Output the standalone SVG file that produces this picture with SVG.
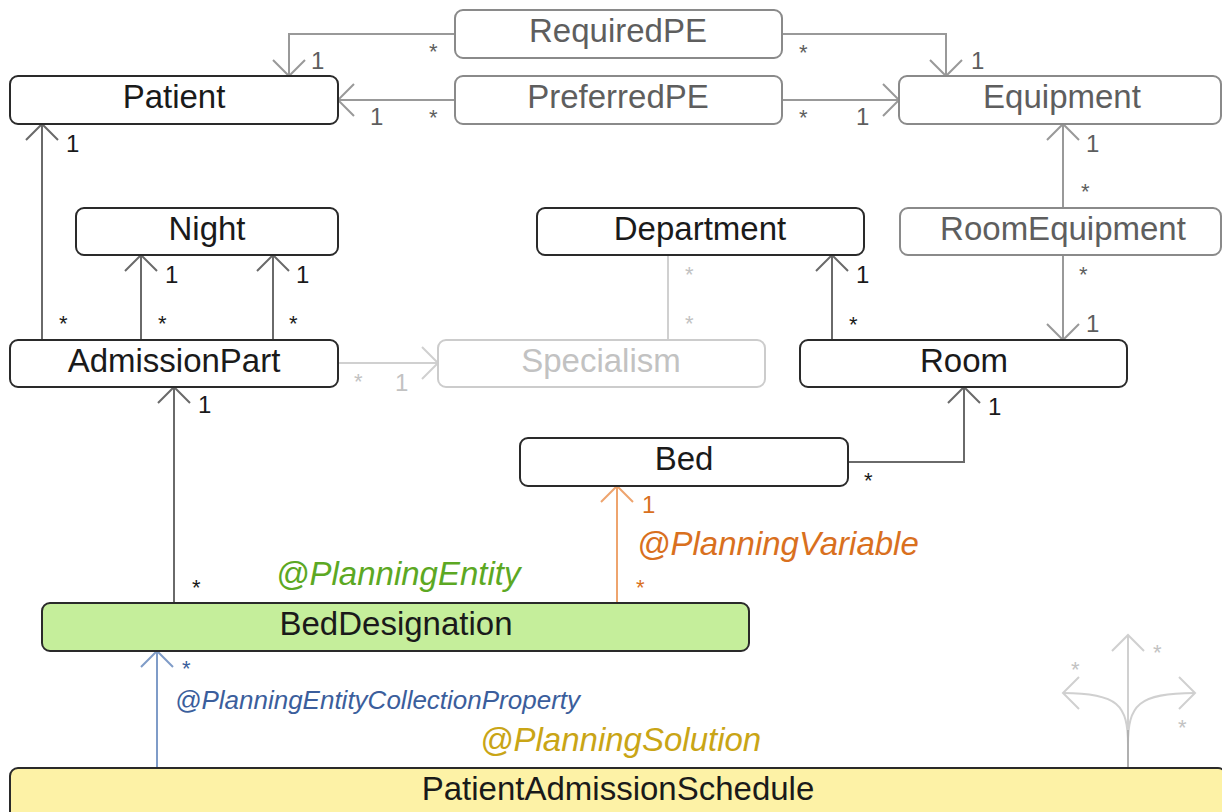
<svg xmlns="http://www.w3.org/2000/svg" width="1222" height="812" viewBox="0 0 1222 812">
<style>
text{font-family:"Liberation Sans",Arial,sans-serif}
.nt{font-size:33px;text-anchor:middle}
.box{fill:#fff;stroke:#2a2a2a;stroke-width:2}
.gbox{fill:#fff;stroke:#8a8a8a;stroke-width:2}
.lbox{fill:#fff;stroke:#cccccc;stroke-width:2}
.dk{fill:#1a1a1a}
.gy{fill:#5e5e5e}
.lt{fill:#c2c2c2}
.c{fill:none;stroke-width:2}
.cd{stroke:#6a6a6a}
.cg{stroke:#999}
.cl{stroke:#d0d0d0}
.co{stroke:#eea46e}
.cb{stroke:#7f9cc8}
.m{font-size:22px}
.o{font-size:24px}
.ann{font-size:33px;font-style:italic}
</style>
<defs>
<marker id="ad" markerUnits="userSpaceOnUse" markerWidth="40" markerHeight="40" refX="20" refY="20" orient="auto" viewBox="0 0 40 40">
<path d="M4,4 L20,20 L4,36" fill="none" stroke="#6a6a6a" stroke-width="2"/>
</marker>
<marker id="ag" markerUnits="userSpaceOnUse" markerWidth="40" markerHeight="40" refX="20" refY="20" orient="auto" viewBox="0 0 40 40">
<path d="M4,4 L20,20 L4,36" fill="none" stroke="#999" stroke-width="2"/>
</marker>
<marker id="al" markerUnits="userSpaceOnUse" markerWidth="40" markerHeight="40" refX="20" refY="20" orient="auto" viewBox="0 0 40 40">
<path d="M4,4 L20,20 L4,36" fill="none" stroke="#d0d0d0" stroke-width="2"/>
</marker>
<marker id="ao" markerUnits="userSpaceOnUse" markerWidth="40" markerHeight="40" refX="20" refY="20" orient="auto" viewBox="0 0 40 40">
<path d="M4,4 L20,20 L4,36" fill="none" stroke="#eea46e" stroke-width="2"/>
</marker>
<marker id="ab" markerUnits="userSpaceOnUse" markerWidth="40" markerHeight="40" refX="20" refY="20" orient="auto" viewBox="0 0 40 40">
<path d="M4,4 L20,20 L4,36" fill="none" stroke="#7f9cc8" stroke-width="2"/>
</marker>
</defs>

<g id="connectors">
<path class="c cg" d="M455,34 H289 V76" marker-end="url(#ag)"/>
<path class="c cg" d="M455,100 H338" marker-end="url(#ag)"/>
<path class="c cg" d="M782,34 H946 V76" marker-end="url(#ag)"/>
<path class="c cg" d="M782,100 H899" marker-end="url(#ag)"/>
<path class="c cg" d="M1063,208 V124" marker-end="url(#ag)"/>
<path class="c cg" d="M1063,255 V340" marker-end="url(#ag)"/>
<path class="c cd" d="M42,340 V124" marker-end="url(#ad)"/>
<path class="c cd" d="M141,340 V255" marker-end="url(#ad)"/>
<path class="c cd" d="M273,340 V255" marker-end="url(#ad)"/>
<path class="c cl" d="M338,363 H438" marker-end="url(#al)"/>
<path class="c cl" d="M668,255 V340"/>
<path class="c cd" d="M832,340 V255" marker-end="url(#ad)"/>
<path class="c cd" d="M848,462 H964 V387" marker-end="url(#ad)"/>
<path class="c cd" d="M174,603 V387" marker-end="url(#ad)"/>
<path class="c co" d="M617,603 V486" marker-end="url(#ao)"/>
<path class="c cb" d="M157,768 V651" marker-end="url(#ab)"/>
<g id="legend">
<path class="c cl" d="M1128,767 V635" marker-end="url(#al)"/>
<path class="c cl" d="M1128,745 C1128,705 1118,693 1063,693" marker-end="url(#al)"/>
<path class="c cl" d="M1128,745 C1128,705 1138,693 1195,693" marker-end="url(#al)"/>
<path class="c" stroke="#b0b0b0" d="M1128,767 V730"/>
<text class="m lt" x="1071" y="677">*</text>
<text class="m lt" x="1153" y="660">*</text>
<text class="m lt" x="1178" y="735">*</text>
</g>
<!-- multiplicities -->
<text class="m gy" x="429" y="59">*</text>
<text class="o gy" x="311" y="69">1</text>
<text class="m gy" x="429" y="125">*</text>
<text class="o gy" x="370" y="125">1</text>
<text class="m gy" x="799" y="60">*</text>
<text class="o gy" x="971" y="69">1</text>
<text class="m gy" x="799" y="125">*</text>
<text class="o gy" x="856" y="125">1</text>
<text class="o gy" x="1086" y="152">1</text>
<text class="m gy" x="1081" y="199">*</text>
<text class="m gy" x="1079" y="282">*</text>
<text class="o gy" x="1086" y="332">1</text>
<text class="o dk" x="66" y="152">1</text>
<text class="m dk" x="59" y="331">*</text>
<text class="o dk" x="165" y="283">1</text>
<text class="m dk" x="158" y="331">*</text>
<text class="o dk" x="296" y="283">1</text>
<text class="m dk" x="289" y="331">*</text>
<text class="m lt" x="354" y="389">*</text>
<text class="o lt" x="395" y="391">1</text>
<text class="m lt" x="685" y="282">*</text>
<text class="m lt" x="685" y="331">*</text>
<text class="o dk" x="856" y="283">1</text>
<text class="m dk" x="849" y="332">*</text>
<text class="m dk" x="864" y="488">*</text>
<text class="o dk" x="988" y="415">1</text>
<text class="o dk" x="198" y="413">1</text>
<text class="m dk" x="192" y="595">*</text>
<text class="o" fill="#d9701e" x="642" y="513">1</text>
<text class="m" fill="#d9701e" x="636" y="595">*</text>
<text class="m" fill="#3b5e9c" x="182" y="676">*</text>
<text class="ann" fill="#d9701e" x="637" y="555">@PlanningVariable</text>
<text class="ann" fill="#5ca823" x="276" y="585">@PlanningEntity</text>
<text class="ann" fill="#3b5e9c" x="175" y="709" style="font-size:26px">@PlanningEntityCollectionProperty</text>
<text class="ann" fill="#c9a516" x="480" y="751">@PlanningSolution</text>
</g>

<g id="Patient"><rect class="box" x="10" y="76" width="328" height="48" rx="8"/><text class="nt dk" x="174" y="108">Patient</text></g>
<g id="RequiredPE"><rect class="gbox" x="455" y="10" width="327" height="48" rx="8"/><text class="nt gy" x="618" y="42">RequiredPE</text></g>
<g id="PreferredPE"><rect class="gbox" x="455" y="76" width="327" height="48" rx="8"/><text class="nt gy" x="618" y="108">PreferredPE</text></g>
<g id="Equipment"><rect class="gbox" x="899" y="76" width="322" height="48" rx="8"/><text class="nt gy" x="1062" y="108">Equipment</text></g>
<g id="Night"><rect class="box" x="76" y="208" width="262" height="47" rx="8"/><text class="nt dk" x="207" y="240">Night</text></g>
<g id="Department"><rect class="box" x="537" y="208" width="327" height="47" rx="8"/><text class="nt dk" x="700" y="240">Department</text></g>
<g id="RoomEquipment"><rect class="gbox" x="900" y="208" width="321" height="47" rx="8"/><text class="nt gy" x="1063" y="240">RoomEquipment</text></g>
<g id="AdmissionPart"><rect class="box" x="10" y="340" width="328" height="47" rx="8"/><text class="nt dk" x="174" y="372">AdmissionPart</text></g>
<g id="Specialism"><rect class="lbox" x="438" y="340" width="327" height="47" rx="8"/><text class="nt lt" x="601" y="372">Specialism</text></g>
<g id="Room"><rect class="box" x="800" y="340" width="327" height="47" rx="8"/><text class="nt dk" x="964" y="372">Room</text></g>
<g id="Bed"><rect class="box" x="520" y="438" width="328" height="48" rx="8"/><text class="nt dk" x="684" y="470">Bed</text></g>
<g id="BedDesignation"><rect class="box" style="fill:#c5ee9b" x="42" y="603" width="707" height="48" rx="8"/><text class="nt dk" x="396" y="635">BedDesignation</text></g>
<g id="PatientAdmissionSchedule"><rect class="box" style="fill:#fdf2a6" x="10" y="768" width="1216" height="60" rx="8"/><text class="nt dk" x="618" y="800">PatientAdmissionSchedule</text></g>
</svg>
